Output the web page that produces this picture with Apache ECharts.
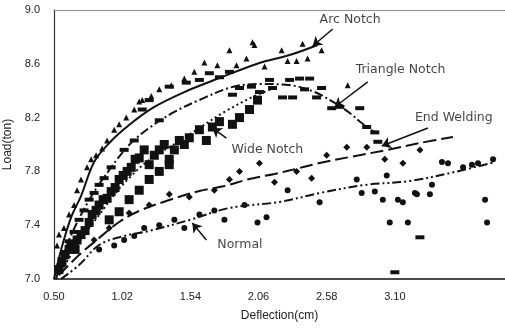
<!DOCTYPE html>
<html>
<head>
<meta charset="utf-8">
<script src="https://cdn.jsdelivr.net/npm/echarts@6/dist/echarts.min.js"></script>
<style>
  html, body { margin: 0; padding: 0; background: #fff; }
  #chart { width: 505px; height: 329px; }
</style>
</head>
<body>
<div id="chart"></div>
<script>
// tick labels
var xTicks = [0.50, 1.02, 1.54, 2.06, 2.58, 3.10];
var yTicks = [7.0, 7.4, 7.8, 8.2, 8.6, 9.0];

// Arc Notch: measured points (triangles) + fitted curve (solid)
var arcPts = [[0.523,7.25],[0.538,7.33],[0.554,7.13],[0.576,7.38],[0.615,7.48],[0.653,7.55],[0.676,7.66],[0.706,7.74],
  [0.752,7.83],[0.783,7.89],[0.821,7.92],[0.867,7.97],[0.905,8.03],[0.959,8.11],[0.997,8.15],[1.051,8.20],[1.112,8.26],
  [1.150,8.32],[1.173,8.33],[1.242,8.36],[1.303,8.41],[1.395,8.44],[1.494,8.49],[1.570,8.54],[1.647,8.61],[1.746,8.59],
  [1.838,8.70],[1.892,8.59],[1.968,8.64],[2.014,8.76],[2.029,8.74],[2.106,8.58],[2.236,8.70],[2.282,8.62],[2.350,8.62],
  [2.396,8.75],[2.434,8.64],[2.541,8.70],[2.740,8.44]];
var arcFit = [[0.50,7.00],[0.538,7.156],[0.584,7.32],[0.638,7.476],[0.706,7.617],[0.806,7.87],[0.921,8.011],[1.073,8.145],
  [1.265,8.279],[1.494,8.39],[1.762,8.494],[2.067,8.606],[2.297,8.665],[2.511,8.74]];

// Triangle Notch: rectangles + dash-dot curve
var triPts = [[0.554,7.10],[0.584,7.20],[0.615,7.28],[0.653,7.35],[0.691,7.44],[0.729,7.51],[0.768,7.59],[0.806,7.64],
  [0.844,7.70],[0.882,7.75],[0.936,7.83],[1.035,7.96],[1.112,8.03],[1.173,8.26],[1.226,8.33],[1.303,8.18],[1.379,8.43],
  [1.509,8.46],[1.609,8.48],[1.685,8.53],[1.762,8.50],[1.838,8.54],[1.915,8.42],[1.861,8.37],[2.006,8.43],[2.067,8.39],
  [2.167,8.42],[2.243,8.35],[2.320,8.35],[2.373,8.49],[2.450,8.49],[2.503,8.35],[2.541,8.42],[2.411,8.41],[2.297,8.48],
  [2.144,8.48],[2.618,8.27],[2.679,8.28],[2.832,8.27],[2.885,8.13],[2.947,8.09],[2.970,8.02],[3.10,7.05],[3.291,7.31]];
var triFit = [[0.515,7.0],[0.615,7.29],[0.768,7.587],[0.921,7.81],[1.073,7.996],[1.226,8.123],[1.418,8.242],[1.609,8.331],
  [1.861,8.428],[2.067,8.45],[2.297,8.442],[2.488,8.39],[2.641,8.309],[2.756,8.234],[2.847,8.16],[2.954,8.086]];

// Wide Notch: squares + dotted curve
var widePts = [[0.538,7.07],[0.561,7.13],[0.584,7.18],[0.615,7.22],[0.638,7.25],[0.661,7.22],[0.676,7.29],[0.706,7.33],
  [0.737,7.36],[0.768,7.42],[0.791,7.48],[0.821,7.51],[0.844,7.55],[0.875,7.59],[0.905,7.60],[0.936,7.65],[0.966,7.68],
  [0.997,7.74],[1.028,7.77],[1.058,7.80],[1.089,7.83],[1.119,7.89],[1.150,7.90],[1.188,7.96],[1.226,7.85],[1.265,7.92],
  [1.303,7.96],[1.341,8.00],[1.379,7.89],[1.418,7.96],[1.456,8.03],[1.494,8.00],[1.532,8.05],[1.609,8.11],[1.662,8.03],
  [1.708,8.13],[1.762,8.17],[1.861,8.15],[1.915,8.20],[1.991,8.26],[2.052,8.33],[0.921,7.44],[0.997,7.50],[1.073,7.59],
  [1.150,7.66],[1.226,7.74],[1.303,7.80],[1.379,7.85]];
var wideFit = [[0.515,7.0],[0.615,7.156],[0.729,7.327],[0.844,7.476],[0.959,7.625],[1.073,7.751],[1.226,7.885],
  [1.433,8.011],[1.609,8.123],[1.80,8.242],[2.014,8.353],[2.182,8.42]];

// End Welding: diamonds + long dash curve
var endPts = [[0.806,7.29],[0.921,7.38],[1.073,7.49],[1.226,7.55],[1.379,7.63],[1.532,7.61],[1.723,7.66],[1.838,7.74],
  [1.915,7.80],[2.067,7.86],[2.182,7.72],[2.350,7.80],[2.465,7.75],[2.580,7.92],[2.733,7.98],[2.886,7.98],[3.023,7.89],
  [3.161,7.86],[3.291,7.96]];
var endFit = [[0.538,7.03],[0.691,7.178],[0.844,7.305],[0.997,7.424],[1.150,7.506],[1.379,7.587],[1.609,7.654],
  [1.80,7.691],[1.991,7.744],[2.182,7.781],[2.373,7.825],[2.526,7.862],[2.756,7.907],[3.038,7.959],[3.291,8.011],[3.543,8.056]];

// Normal: circles + dash-dot-dot curve
var normPts = [[0.844,7.22],[0.959,7.25],[1.035,7.29],[1.112,7.32],[1.188,7.38],[1.303,7.40],[1.418,7.44],[1.494,7.38],
  [1.609,7.48],[1.723,7.51],[1.80,7.44],[1.953,7.55],[2.052,7.42],[2.121,7.46],[2.282,7.66],[2.526,7.57],[2.809,7.74],
  [2.847,7.64],[2.947,7.65],[3.008,7.59],[3.038,7.77],[3.061,7.42],[3.123,7.59],[3.161,7.57],[3.199,7.42],[3.253,7.64],
  [3.268,7.63],[3.367,7.63],[3.383,7.70],[3.459,7.87],[3.505,7.86],[3.62,7.83],[3.688,7.85],[3.734,7.86],[3.788,7.59],
  [3.803,7.42],[3.849,7.89]];
var normFit = [[0.554,7.0],[0.691,7.104],[0.844,7.253],[1.035,7.32],[1.226,7.357],[1.532,7.439],[1.838,7.528],
  [2.220,7.573],[2.526,7.639],[2.870,7.699],[3.214,7.729],[3.558,7.796],[3.864,7.87]];

// annotations: label anchor, arrow tail, arrow head
var noteNames = ['Arc Notch', 'Triangle Notch', 'End Welding', 'Wide Notch', 'Normal'];
var noteText  = [[2.526,8.926],[2.801,8.554],[3.253,8.197],[1.853,7.959],[1.746,7.253]];
var noteFrom  = [[2.626,8.859],[2.893,8.465],[3.352,8.123],[1.815,8.048],[1.662,7.29]];
var noteTo    = [[2.473,8.732],[2.641,8.279],[3.0,7.989],[1.708,8.123],[1.555,7.416]];

var ink = '#111';
var chart = echarts.init(document.getElementById('chart'));

function pts(name, data, symbol, size) {
  return {
    name: name, type: 'scatter', data: data, symbol: symbol, symbolSize: size,
    itemStyle: { color: ink, opacity: 1 }, silent: true, z: 3
  };
}
function fit(name, data, dash) {
  return {
    name: name, type: 'line', data: data, showSymbol: false, smooth: 0.35,
    lineStyle: { color: ink, width: 2, type: dash }, silent: true, z: 4
  };
}

var series = [
  pts('Arc Notch', arcPts, 'triangle', 6),
  fit('Arc Notch', arcFit, 'solid'),
  pts('Triangle Notch', triPts, 'rect', [9, 4]),
  fit('Triangle Notch', triFit, [9, 3, 2, 3]),
  pts('Wide Notch', widePts, 'rect', [9, 9]),
  fit('Wide Notch', wideFit, [2, 3]),
  pts('End Welding', endPts, 'diamond', 7),
  fit('End Welding', endFit, [13, 5]),
  pts('Normal', normPts, 'circle', 6),
  fit('Normal', normFit, [9, 3, 2, 3, 2, 3]),
  {
    type: 'lines', coordinateSystem: 'cartesian2d', silent: true, z: 6,
    symbol: ['none', 'arrow'], symbolSize: 9,
    lineStyle: { color: ink, width: 1.5, opacity: 1 },
    data: noteFrom.map(function (p, i) { return { coords: [p, noteTo[i]] }; })
  },
  {
    type: 'scatter', symbolSize: 0, silent: true, z: 6,
    label: {
      show: true, position: 'right', distance: 0, color: ink,
      fontFamily: 'DejaVu Sans', fontSize: 12.5,
      formatter: function (p) { return p.name; }
    },
    data: noteText.map(function (p, i) { return { name: noteNames[i], value: p }; })
  }
];

var option = {
  backgroundColor: '#fff',
  animation: false,
  grid: { left: 54, right: 0, top: 10, bottom: 50, containLabel: false, outerBoundsMode: 'none' },
  xAxis: [{
    type: 'value', min: 0.5, max: 3.94,
    name: 'Deflection(cm)', nameLocation: 'middle', nameGap: 31,
    nameTextStyle: { color: '#222', fontFamily: 'Liberation Sans', fontSize: 12 },
    axisLine: { onZero: false, lineStyle: { color: ink, width: 1.5 } },
    axisTick: { show: false },
    splitLine: { show: false },
    axisLabel: {
      customValues: xTicks, margin: 12, color: '#222', fontFamily: 'Liberation Sans', fontSize: 11,
      formatter: function (v) { return v.toFixed(2); }
    }
  }, {
    type: 'value', min: 0.5, max: 3.94, position: 'top',
    axisLine: { show: true, onZero: false, lineStyle: { color: '#777', width: 1, type: 'dotted' } },
    axisTick: { show: false }, axisLabel: { show: false }, splitLine: { show: false }
  }],
  yAxis: {
    type: 'value', min: 7.0, max: 9.0,
    name: 'Load(ton)', nameLocation: 'middle', nameGap: 38,
    nameTextStyle: { color: '#222', fontFamily: 'Liberation Sans', fontSize: 12 },
    axisLine: { show: true, onZero: false, lineStyle: { color: '#333', width: 1.2 } },
    axisTick: { show: false },
    splitLine: { show: false },
    axisLabel: {
      customValues: yTicks, margin: 14, color: '#222', fontFamily: 'Liberation Sans', fontSize: 11,
      formatter: function (v) { return v.toFixed(1); }
    }
  },
  series: series
};
chart.setOption(option);
</script>
</body>
</html>
